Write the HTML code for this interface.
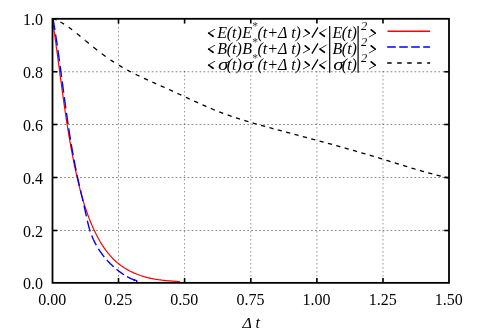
<!DOCTYPE html>
<html><head><meta charset="utf-8"><title>plot</title>
<style>html,body{margin:0;padding:0;background:#fff;}svg{display:block;will-change:transform;}text{font-family:"Liberation Serif",serif;fill:#000;}.it{font-style:italic;}</style></head><body>
<svg width="478" height="334" viewBox="0 0 478 334">
<rect x="0" y="0" width="478" height="334" fill="#fff"/>
<g stroke="#000" stroke-opacity="0.47" stroke-width="1" stroke-dasharray="1.7 2.3" fill="none">
<line x1="118.50" y1="19.0" x2="118.50" y2="282.85" stroke-opacity="0.42" stroke-dasharray="1.5 2.5"/>
<line x1="184.60" y1="19.0" x2="184.60" y2="282.85" stroke-opacity="0.42" stroke-dasharray="1.5 2.5"/>
<line x1="250.80" y1="19.0" x2="250.80" y2="282.85" stroke-opacity="0.42" stroke-dasharray="1.5 2.5"/>
<line x1="316.90" y1="19.0" x2="316.90" y2="282.85" stroke-opacity="0.42" stroke-dasharray="1.5 2.5"/>
<line x1="383.00" y1="19.0" x2="383.00" y2="282.85" stroke-opacity="0.42" stroke-dasharray="1.5 2.5"/>
<line x1="52.30" y1="230.50" x2="449.00" y2="230.50" stroke-dasharray="1.7 2.28"/>
<line x1="52.30" y1="177.50" x2="449.00" y2="177.50" stroke-dasharray="1.7 2.28"/>
<line x1="52.30" y1="124.50" x2="449.00" y2="124.50" stroke-dasharray="1.7 2.28"/>
<line x1="52.30" y1="71.75" x2="449.00" y2="71.75" stroke-dasharray="1.7 2.28"/>
</g>
<rect x="150" y="19.8" width="298.0" height="50.9" fill="#fff"/>
<clipPath id="c"><rect x="52.5" y="18.8" width="396.50" height="264.05"/></clipPath><g clip-path="url(#c)">
<polyline points="52.26,18.78 52.81,22.38 53.35,25.97 53.88,29.57 54.41,33.16 54.92,36.76 55.43,40.36 55.93,43.95 56.42,47.55 56.92,51.15 57.40,54.75 57.89,58.35 58.37,61.94 58.85,65.54 59.33,69.14 59.81,72.74 60.29,76.33 60.77,79.93 61.25,83.53 61.73,87.12 62.22,90.72 62.71,94.31 63.21,97.90 63.71,101.49 64.22,105.08 64.74,108.67 65.27,112.26 65.80,115.84 66.34,119.43 66.90,123.01 67.46,126.59 68.03,130.17 68.62,133.74 69.22,137.32 69.84,140.89 70.47,144.46 71.11,148.03 71.77,151.59 72.45,155.15 73.15,158.71 73.86,162.27 74.59,165.82 75.35,169.38 76.12,172.92 76.91,176.47 77.73,180.01 78.57,183.55 79.44,187.08 80.34,190.60 81.28,194.11 82.26,197.62 83.27,201.11 84.34,204.59 85.45,208.05 86.62,211.50 87.84,214.93 89.12,218.34 90.46,221.73 91.87,225.10 93.35,228.44 94.91,231.76 96.54,235.04 98.25,238.29 100.06,241.47 101.95,244.59 103.95,247.64 106.05,250.59 108.26,253.44 110.59,256.18 113.04,258.79 115.61,261.26 118.31,263.59 121.15,265.75 124.12,267.76 127.19,269.61 130.38,271.31 133.65,272.85 137.01,274.25 140.44,275.50 143.94,276.60 147.48,277.56 151.06,278.39 154.67,279.10 158.30,279.69 161.94,280.19 165.58,280.60 169.19,280.93 172.79,281.20 176.34,281.42 179.85,281.59" fill="none" stroke="#ff0000" stroke-width="1.2" stroke-linejoin="round"/>
<path d="M53.03,18.80 L53.19,19.72 L53.35,20.64 L53.50,21.56 L53.66,22.48 L53.81,23.40 L53.96,24.33 L54.12,25.25 L54.27,26.17 L54.42,27.09 L54.57,28.02 L54.72,28.94 L54.86,29.86 L54.89,30.00 M55.58,34.41 L55.72,35.33 L55.87,36.25 L56.01,37.18 L56.15,38.10 L56.29,39.03 L56.43,39.95 L56.57,40.87 L56.70,41.80 L56.84,42.72 L56.98,43.65 L57.11,44.57 L57.25,45.50 L57.27,45.64 M57.91,50.05 L58.04,50.98 L58.17,51.90 L58.30,52.83 L58.43,53.75 L58.56,54.68 L58.69,55.60 L58.82,56.53 L58.95,57.45 L59.08,58.38 L59.21,59.31 L59.34,60.23 L59.46,61.16 L59.48,61.30 M60.09,65.72 L60.21,66.64 L60.34,67.57 L60.46,68.49 L60.59,69.42 L60.71,70.35 L60.83,71.27 L60.96,72.20 L61.08,73.13 L61.21,74.05 L61.33,74.98 L61.45,75.91 L61.58,76.83 L61.60,76.97 M62.18,81.39 L62.31,82.32 L62.43,83.25 L62.55,84.17 L62.67,85.10 L62.80,86.02 L62.92,86.95 L63.04,87.88 L63.17,88.80 L63.29,89.73 L63.41,90.66 L63.54,91.58 L63.66,92.51 L63.69,92.72 M64.28,97.14 L64.40,98.07 L64.53,98.99 L64.66,99.92 L64.78,100.85 L64.91,101.77 L65.03,102.70 L65.16,103.62 L65.28,104.55 L65.41,105.48 L65.54,106.40 L65.67,107.33 L65.79,108.25 L65.81,108.40 M66.43,112.81 L66.56,113.74 L66.69,114.66 L66.82,115.59 L66.96,116.51 L67.09,117.44 L67.22,118.36 L67.36,119.29 L67.49,120.21 L67.63,121.14 L67.76,122.06 L67.90,122.99 L68.03,123.91 L68.05,124.05 M68.72,128.46 L68.86,129.39 L69.00,130.31 L69.14,131.23 L69.28,132.16 L69.43,133.08 L69.57,134.00 L69.72,134.93 L69.86,135.85 L70.01,136.77 L70.16,137.70 L70.31,138.62 L70.46,139.54 L70.48,139.68 M71.19,144.01 L71.35,144.93 L71.50,145.85 L71.66,146.77 L71.82,147.69 L71.98,148.62 L72.14,149.54 L72.30,150.46 L72.46,151.38 L72.62,152.30 L72.79,153.22 L72.96,154.14 L73.12,155.06 L73.15,155.20 M73.96,159.58 L74.13,160.50 L74.31,161.42 L74.48,162.34 L74.66,163.25 L74.84,164.17 L75.02,165.09 L75.20,166.00 L75.38,166.92 L75.56,167.84 L75.75,168.75 L75.94,169.67 L76.12,170.59 L76.14,170.66 M77.04,174.95 L77.24,175.86 L77.43,176.78 L77.63,177.69 L77.83,178.60 L78.03,179.51 L78.24,180.43 L78.44,181.34 L78.65,182.25 L78.85,183.16 L79.06,184.07 L79.27,184.98 L79.48,185.90 M80.48,190.24 L80.69,191.15 L80.90,192.06 L81.12,192.97 L81.33,193.88 L81.54,194.79 L81.75,195.70 L81.97,196.61 L82.18,197.52 L82.39,198.43 L82.60,199.34 L82.81,200.25 L83.02,201.16 M84.00,205.44 L84.21,206.35 L84.41,207.26 L84.62,208.17 L84.82,209.08 L85.02,210.00 L85.22,210.91 L85.42,211.82 L85.62,212.74 L85.81,213.65 L86.01,214.56 L86.20,215.48 L86.40,216.39 L86.41,216.46 M87.35,220.75 L87.54,221.59 L87.74,222.43 L87.95,223.26 L88.15,224.10 L88.36,224.94 L88.58,225.77 L88.80,226.61 L89.03,227.44 L89.26,228.27 L89.51,229.10 L89.76,229.92 L90.01,230.75 L90.26,231.50 M91.74,235.55 L92.05,236.35 L92.38,237.15 L92.72,237.94 L93.07,238.73 L93.41,239.52 L93.78,240.31 L94.15,241.08 L94.53,241.86 L94.91,242.63 L95.31,243.40 L95.72,244.16 L96.13,244.92 L96.30,245.23 M98.38,248.76 L98.81,249.43 L99.24,250.09 L99.66,250.76 L100.11,251.41 L100.56,252.06 L101.02,252.71 L101.47,253.35 L101.94,253.99 L102.42,254.62 L102.90,255.25 L103.37,255.88 L103.87,256.50 L104.28,257.00 M106.80,259.95 L107.33,260.54 L107.86,261.12 L108.41,261.69 L108.96,262.26 L109.50,262.83 L110.05,263.40 L110.62,263.95 L111.19,264.50 L111.76,265.05 L112.33,265.59 L112.92,266.12 L113.51,266.65 L113.67,266.79 M116.51,269.23 L117.06,269.69 L117.62,270.14 L118.19,270.58 L118.76,271.02 L119.33,271.46 L119.90,271.90 L120.48,272.32 L121.06,272.74 L121.65,273.16 L122.23,273.57 L122.83,273.98 L123.43,274.37 L123.97,274.72 M127.04,276.60 L127.66,276.96 L128.29,277.30 L128.93,277.63 L129.57,277.96 L130.21,278.29 L130.85,278.61 L131.51,278.90 L132.17,279.19 L132.83,279.48 L133.48,279.76 L134.16,280.01 L134.84,280.25 L135.11,280.35" fill="none" stroke="#0000ff" stroke-width="1.4" stroke-linejoin="round"/>
<path d="M133.5,279.7 L136.7,280.7 L136.7,282.3" fill="none" stroke="#0000ff" stroke-width="1.4"/>
<path d="M52.75,18.35 L54.67,19.15 L56.65,20.03 M60.41,21.99 L62.19,23.01 L64.04,24.16 M68.73,27.30 L70.45,28.55 L72.17,29.83 M76.72,33.39 L76.85,33.50 L77.05,33.66 M77.12,33.71 L78.77,35.06 L80.42,36.42 M84.84,40.11 L85.11,40.33 L85.44,40.61 M85.51,40.67 L87.16,42.04 L88.81,43.40 M93.30,47.06 L93.50,47.22 L93.76,47.43 M93.83,47.48 L95.48,48.79 L97.19,50.14 M101.75,53.63 L101.95,53.78 L102.15,53.93 M102.21,53.98 L103.93,55.24 L105.65,56.50 M110.40,59.83 L110.40,59.83 L110.47,59.87 M110.53,59.92 L112.32,61.12 L114.10,62.29 M118.92,65.31 L120.77,66.42 L122.62,67.48 M127.24,70.05 L129.09,71.03 L131.00,72.02 M135.63,74.34 L137.54,75.28 L139.46,76.19 M144.01,78.32 L145.93,79.20 L147.91,80.09 M152.33,82.08 L154.25,82.93 L156.23,83.81 M160.72,85.79 L162.64,86.64 L164.62,87.53 M169.04,89.52 L170.96,90.39 L172.94,91.30 M177.43,93.37 L179.34,94.26 L181.32,95.18 M185.81,97.26 L187.73,98.15 L189.71,99.06 M194.14,101.09 L196.05,101.96 L198.03,102.86 M202.52,104.86 L204.44,105.70 L206.42,106.56 M210.84,108.43 L212.82,109.26 L214.80,110.06 M219.23,111.82 L221.21,112.58 L223.19,113.33 M227.62,114.94 L229.60,115.64 L231.64,116.34 M235.94,117.79 L237.92,118.44 L239.96,119.10 M244.32,120.47 L246.37,121.10 L248.42,121.71 M252.64,122.96 L254.69,123.56 L256.74,124.14 M261.03,125.35 L263.08,125.92 L265.12,126.49 M269.42,127.65 L271.46,128.21 L273.51,128.76 M277.74,129.88 L279.78,130.43 L281.83,130.97 M286.12,132.11 L288.17,132.65 L290.22,133.19 M294.44,134.31 L296.49,134.86 L298.54,135.40 M302.83,136.55 L304.88,137.10 L306.93,137.65 M311.22,138.80 L313.26,139.35 L315.31,139.90 M319.54,141.05 L321.59,141.60 L323.63,142.16 M327.92,143.34 L329.97,143.90 L332.02,144.46 M336.25,145.63 L338.29,146.20 L340.34,146.77 M344.63,147.98 L346.68,148.56 L348.73,149.14 M353.02,150.36 L355.07,150.95 L357.11,151.54 M361.34,152.76 L363.39,153.36 L365.43,153.96 M369.73,155.23 L371.77,155.83 L373.82,156.45 M378.05,157.72 L380.09,158.34 L382.14,158.96 M386.43,160.28 L388.48,160.91 L390.53,161.55 M394.82,162.88 L396.87,163.52 L398.91,164.15 M403.14,165.46 L405.19,166.09 L407.23,166.72 M411.53,168.02 L413.57,168.64 L415.62,169.25 M419.85,170.49 L421.89,171.08 L423.94,171.67 M428.23,172.86 L430.28,173.42 L432.33,173.96 M436.62,175.08 L438.67,175.59 L440.78,176.11 M444.94,177.10 L446.92,177.54 L448.90,177.98" fill="none" stroke="#000" stroke-width="1.3" stroke-linejoin="round"/>
</g>
<rect x="52.5" y="18.8" width="396.50" height="264.05" stroke="#000" stroke-width="1.8" fill="none"/>
<g stroke="#000" stroke-width="1.6" fill="none">
<line x1="118.50" y1="282.85" x2="118.50" y2="278.05"/>
<line x1="118.50" y1="18.80" x2="118.50" y2="23.60"/>
<line x1="184.60" y1="282.85" x2="184.60" y2="278.05"/>
<line x1="184.60" y1="18.80" x2="184.60" y2="23.60"/>
<line x1="250.80" y1="282.85" x2="250.80" y2="278.05"/>
<line x1="250.80" y1="18.80" x2="250.80" y2="23.60"/>
<line x1="316.90" y1="282.85" x2="316.90" y2="278.05"/>
<line x1="316.90" y1="18.80" x2="316.90" y2="23.60"/>
<line x1="383.00" y1="282.85" x2="383.00" y2="278.05"/>
<line x1="383.00" y1="18.80" x2="383.00" y2="23.60"/>
<line x1="52.50" y1="230.50" x2="57.30" y2="230.50"/>
<line x1="449.00" y1="230.50" x2="444.20" y2="230.50"/>
<line x1="52.50" y1="177.50" x2="57.30" y2="177.50"/>
<line x1="449.00" y1="177.50" x2="444.20" y2="177.50"/>
<line x1="52.50" y1="124.50" x2="57.30" y2="124.50"/>
<line x1="449.00" y1="124.50" x2="444.20" y2="124.50"/>
<line x1="52.50" y1="71.75" x2="57.30" y2="71.75"/>
<line x1="449.00" y1="71.75" x2="444.20" y2="71.75"/>
</g>
<text x="43" y="289.05" font-size="16" text-anchor="end">0.0</text>
<text x="43" y="236.70" font-size="16" text-anchor="end">0.2</text>
<text x="43" y="183.70" font-size="16" text-anchor="end">0.4</text>
<text x="43" y="130.70" font-size="16" text-anchor="end">0.6</text>
<text x="43" y="77.95" font-size="16" text-anchor="end">0.8</text>
<text x="43" y="25.00" font-size="16" text-anchor="end">1.0</text>
<text x="52.20" y="304.6" font-size="16" text-anchor="middle">0.00</text>
<text x="118.20" y="304.6" font-size="16" text-anchor="middle">0.25</text>
<text x="184.30" y="304.6" font-size="16" text-anchor="middle">0.50</text>
<text x="250.50" y="304.6" font-size="16" text-anchor="middle">0.75</text>
<text x="316.60" y="304.6" font-size="16" text-anchor="middle">1.00</text>
<text x="382.70" y="304.6" font-size="16" text-anchor="middle">1.25</text>
<text x="448.70" y="304.6" font-size="16" text-anchor="middle">1.50</text>
<text class="it" transform="translate(242.4,328) scale(1,0.93)" font-size="16">Δ</text>
<text class="it" x="255.6" y="328" font-size="16">t</text>
<line x1="208.30" y1="33.10" x2="215.10" y2="29.10" stroke="#000" stroke-width="0.8"/><line x1="208.70" y1="33.10" x2="213.10" y2="36.30" stroke="#000" stroke-width="1.7" stroke-linecap="round"/>
<text class="it" x="217.3" y="38.0" font-size="16">E</text>
<text class="it" x="226.7" y="38.0" font-size="16">(t)</text>
<text class="it" x="242.2" y="38.0" font-size="16">E</text>
<text x="252.3" y="30.4" font-size="11.5" fill-opacity="0.8">*</text>
<text class="it" x="257.5" y="38.0" font-size="16">(t+Δ t)</text>
<line x1="309.20" y1="33.10" x2="305.20" y2="29.90" stroke="#000" stroke-width="1.7" stroke-linecap="round"/><line x1="309.60" y1="33.30" x2="302.90" y2="37.10" stroke="#000" stroke-width="0.8"/>
<line x1="311.9" y1="37.60" x2="318.0" y2="27.40" stroke="#000" stroke-width="1.25"/>
<line x1="319.60" y1="33.10" x2="326.40" y2="29.10" stroke="#000" stroke-width="0.8"/><line x1="320.00" y1="33.10" x2="324.40" y2="36.30" stroke="#000" stroke-width="1.7" stroke-linecap="round"/>
<text class="it" x="332.6" y="38.0" font-size="16">E</text>
<text class="it" x="341.8" y="38.0" font-size="16">(t)</text>
<text class="it" x="360.9" y="30.0" font-size="12.4">2</text>
<line x1="375.20" y1="33.10" x2="371.20" y2="29.90" stroke="#000" stroke-width="1.7" stroke-linecap="round"/><line x1="375.60" y1="33.30" x2="368.90" y2="37.10" stroke="#000" stroke-width="0.8"/>
<line x1="208.30" y1="49.10" x2="215.10" y2="45.10" stroke="#000" stroke-width="0.8"/><line x1="208.70" y1="49.10" x2="213.10" y2="52.30" stroke="#000" stroke-width="1.7" stroke-linecap="round"/>
<text class="it" x="217.3" y="54.0" font-size="16">B</text>
<text class="it" x="226.7" y="54.0" font-size="16">(t)</text>
<text class="it" x="242.2" y="54.0" font-size="16">B</text>
<text x="252.3" y="46.4" font-size="11.5" fill-opacity="0.8">*</text>
<text class="it" x="257.5" y="54.0" font-size="16">(t+Δ t)</text>
<line x1="309.20" y1="49.10" x2="305.20" y2="45.90" stroke="#000" stroke-width="1.7" stroke-linecap="round"/><line x1="309.60" y1="49.30" x2="302.90" y2="53.10" stroke="#000" stroke-width="0.8"/>
<line x1="311.9" y1="53.60" x2="318.0" y2="43.40" stroke="#000" stroke-width="1.25"/>
<line x1="319.60" y1="49.10" x2="326.40" y2="45.10" stroke="#000" stroke-width="0.8"/><line x1="320.00" y1="49.10" x2="324.40" y2="52.30" stroke="#000" stroke-width="1.7" stroke-linecap="round"/>
<text class="it" x="332.6" y="54.0" font-size="16">B</text>
<text class="it" x="341.8" y="54.0" font-size="16">(t)</text>
<text class="it" x="360.9" y="46.0" font-size="12.4">2</text>
<line x1="375.20" y1="49.10" x2="371.20" y2="45.90" stroke="#000" stroke-width="1.7" stroke-linecap="round"/><line x1="375.60" y1="49.30" x2="368.90" y2="53.10" stroke="#000" stroke-width="0.8"/>
<line x1="208.30" y1="65.10" x2="215.10" y2="61.10" stroke="#000" stroke-width="0.8"/><line x1="208.70" y1="65.10" x2="213.10" y2="68.30" stroke="#000" stroke-width="1.7" stroke-linecap="round"/>
<text class="it" transform="translate(217.9,70.0) scale(1.32,1)" font-size="16">σ</text>
<text class="it" x="226.7" y="70.0" font-size="16">(t)</text>
<text class="it" transform="translate(242.8,70.0) scale(1.32,1)" font-size="16">σ</text>
<text x="252.3" y="62.4" font-size="11.5" fill-opacity="0.8">*</text>
<text class="it" x="257.5" y="70.0" font-size="16">(t+Δ t)</text>
<line x1="309.20" y1="65.10" x2="305.20" y2="61.90" stroke="#000" stroke-width="1.7" stroke-linecap="round"/><line x1="309.60" y1="65.30" x2="302.90" y2="69.10" stroke="#000" stroke-width="0.8"/>
<line x1="311.9" y1="69.60" x2="318.0" y2="59.40" stroke="#000" stroke-width="1.25"/>
<line x1="319.60" y1="65.10" x2="326.40" y2="61.10" stroke="#000" stroke-width="0.8"/><line x1="320.00" y1="65.10" x2="324.40" y2="68.30" stroke="#000" stroke-width="1.7" stroke-linecap="round"/>
<text class="it" transform="translate(333.2,70.0) scale(1.32,1)" font-size="16">σ</text>
<text class="it" x="341.8" y="70.0" font-size="16">(t)</text>
<text class="it" x="360.9" y="62.0" font-size="12.4">2</text>
<line x1="375.20" y1="65.10" x2="371.20" y2="61.90" stroke="#000" stroke-width="1.7" stroke-linecap="round"/><line x1="375.60" y1="65.30" x2="368.90" y2="69.10" stroke="#000" stroke-width="0.8"/>
<g stroke="#000" stroke-width="1.2">
<line x1="329.7" y1="26.1" x2="329.7" y2="72.8"/>
<line x1="358.1" y1="26.1" x2="358.1" y2="72.8"/>
</g>
<line x1="387.5" y1="31.3" x2="430.1" y2="31.3" stroke="#ff0000" stroke-width="1.5"/>
<line x1="387.2" y1="47.0" x2="430.1" y2="47.0" stroke="#0000ff" stroke-width="1.28" stroke-dasharray="8.6 3.4"/>
<line x1="387.2" y1="63.0" x2="430.1" y2="63.0" stroke="#000" stroke-width="1.35" stroke-dasharray="4.5 5.5"/>
</svg></body></html>
